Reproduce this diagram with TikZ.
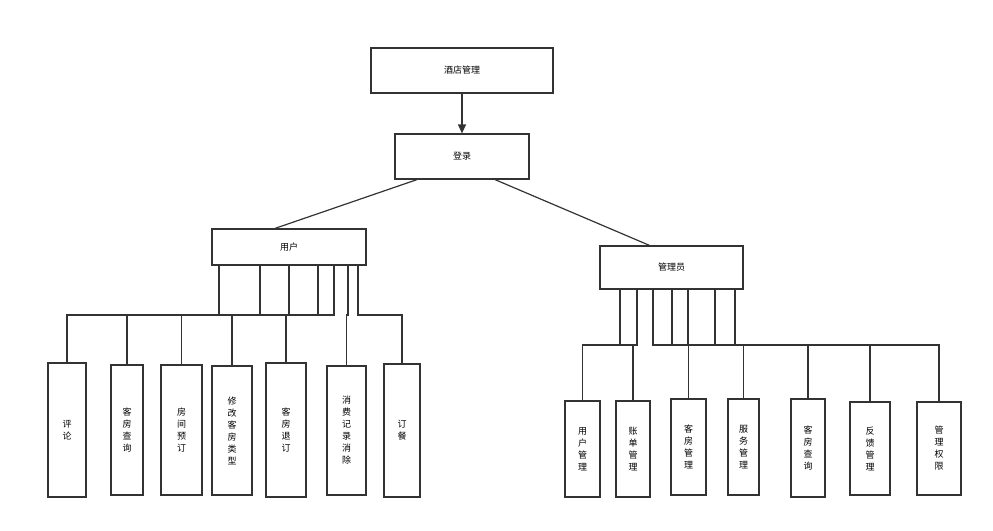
\documentclass[tikz,border=0pt]{standalone}
\usepackage{fontspec}
\setmainfont{Noto Sans CJK SC}
\usetikzlibrary{arrows.meta, calc}
\tikzset{
  box/.style={draw=black!80, line width=1.2pt, inner sep=0pt, align=center, font=\fontsize{9}{12}\selectfont},
  link/.style={draw=black!80, line width=1.2pt},
}
% \blk{name}{x1}{y1}{x2}{y2}{text}
\newcommand{\blk}[6]{\node[box, minimum width={(#4-#2)*1pt}, minimum height={(#5-#3)*1pt}]
  (#1) at ({(#2+#4)/2},{(#3+#5)/2}) {#6};}
\begin{document}
\begin{tikzpicture}[x=1pt, y=-1pt]
  \useasboundingbox (0,0) rectangle (993,530);
  \blk{hotel}{371}{48}{553}{93}{酒店管理}
  \blk{login}{395}{134}{529}{179}{登录}
  \blk{user}{212}{229}{366}{265}{用户}
  \blk{admin}{600}{246}{743}{289}{管理员}
  % user side
  \blk{u1}{48}{363}{86}{497}{评\\论}
  \blk{u2}{111}{365}{143}{495}{客\\房\\查\\询}
  \blk{u3}{161}{365}{202}{495}{房\\间\\预\\订}
  \blk{u4}{212}{366}{252}{495}{修\\改\\客\\房\\类\\型}
  \blk{u5}{266}{363}{306}{497}{客\\房\\退\\订}
  \blk{u6}{327}{366}{366}{495}{消\\费\\记\\录\\消\\除}
  \blk{u7}{384}{364}{420}{497}{订\\餐}
  % admin side
  \blk{a1}{565}{401}{600}{497}{用\\户\\管\\理}
  \blk{a2}{616}{401}{650}{497}{账\\单\\管\\理}
  \blk{a3}{671}{399}{706}{495}{客\\房\\管\\理}
  \blk{a4}{728}{399}{759}{495}{服\\务\\管\\理}
  \blk{a5}{791}{399}{825}{497}{客\\房\\查\\询}
  \blk{a6}{850}{402}{890}{495}{反\\馈\\管\\理}
  \blk{a7}{917}{402}{961}{495}{管\\理\\权\\限}

  \draw[link, -{Triangle[length=9pt, width=8pt]}] (hotel) -- (login);
  \draw[link] ($(login.south)+(-45,0)$) -- ($(user.north)+(-14,0)$);
  \draw[link] ($(login.south)+(33,0)$) -- ($(admin.north)+(-22,0)$);

  \foreach \px/\c in {219/u1, 260/u2, 289/u3, 318/u4, 334/u5, 348/u6, 358/u7}
    \draw[link] (\px,265) |- (\c.north |- 0,315) -- (\c.north);
  \foreach \px/\c in {620/a2, 637/a1, 653/a3, 672/a4, 688/a5, 715/a6, 735/a7}
    \draw[link] (\px,289) |- (\c.north |- 0,345) -- (\c.north);
\end{tikzpicture}
\end{document}
